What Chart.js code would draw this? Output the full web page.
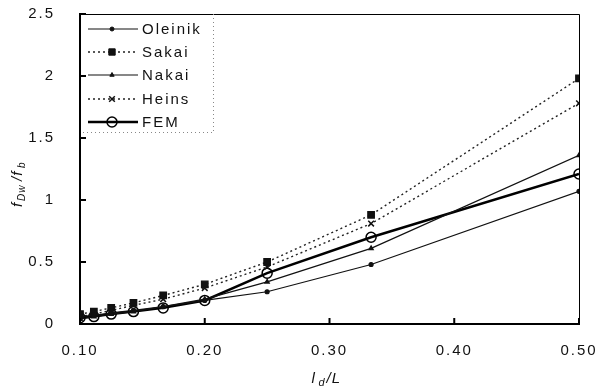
<!DOCTYPE html>
<html>
<head>
    <title>fDw/fb vs ld/L</title>
    <script src="https://cdn.jsdelivr.net/npm/chart.js@4.4.0/dist/chart.umd.min.js"></script>
    <style>
        body { margin: 0; background: #fff; }
        .chart-container { width: 596px; height: 389px; position: relative; }
    </style>
</head>
<body>
    <div class="chart-container">
        <canvas id="ratioChart"></canvas>
    </div>

    <script>
        // ld/L = 1/10 ... 1/2
        const ldL = [1/10, 1/9, 1/8, 1/7, 1/6, 1/5, 1/4, 1/3, 1/2];
        const oleinik = [0.06, 0.07, 0.09, 0.11, 0.14, 0.19, 0.26, 0.48, 1.07];
        const sakai   = [0.08, 0.10, 0.13, 0.17, 0.23, 0.32, 0.50, 0.88, 1.98];
        const nakai   = [0.04, 0.06, 0.08, 0.10, 0.14, 0.20, 0.34, 0.61, 1.36];
        const heins   = [0.06, 0.08, 0.11, 0.15, 0.20, 0.29, 0.46, 0.81, 1.78];
        const fem     = [0.05, 0.06, 0.08, 0.10, 0.13, 0.19, 0.41, 0.70, 1.21];
        const xTicks = [0.10, 0.20, 0.30, 0.40, 0.50];
        const yTicks = [0, 0.5, 1, 1.5, 2, 2.5];

        const FONT = '"Liberation Sans", Arial, sans-serif';

        function pts(ys) {
            return ldL.map(function(x, i) { return { x: x, y: ys[i] }; });
        }

        const datasets = [
            { label: 'Oleinik', data: pts(oleinik), borderColor: '#111', borderWidth: 1.2,
              pointStyle: 'circle', pointRadius: 2, pointBackgroundColor: '#111', pointBorderColor: '#111' },
            { label: 'Sakai', data: pts(sakai), borderColor: '#222', borderWidth: 1.4, borderDash: [2, 3],
              pointStyle: 'rect', pointRadius: 4.5, pointBackgroundColor: '#111', pointBorderColor: '#111' },
            { label: 'Nakai', data: pts(nakai), borderColor: '#111', borderWidth: 1.2,
              pointStyle: 'triangle', pointRadius: 2.5, pointBackgroundColor: '#111', pointBorderColor: '#111' },
            { label: 'Heins', data: pts(heins), borderColor: '#222', borderWidth: 1.4, borderDash: [2, 3],
              pointStyle: 'crossRot', pointRadius: 4, pointBorderWidth: 1.5, pointBorderColor: '#111' },
            { label: 'FEM', data: pts(fem), borderColor: '#000', borderWidth: 2.5,
              pointStyle: 'circle', pointRadius: 5, pointBorderWidth: 1.5,
              pointBackgroundColor: 'rgba(0,0,0,0)', pointBorderColor: '#000' }
        ];

        // spaced-out lettering like the scanned figure
        const spacingPlugin = {
            id: 'spacing',
            beforeDraw: function(chart) { chart.ctx.letterSpacing = '2px'; }
        };

        // frame, inward tick marks, inner legend and axis titles with subscripts
        const decorPlugin = {
            id: 'decor',
            afterDraw: function(chart) {
                const ctx = chart.ctx;
                const a = chart.chartArea;
                const xs = chart.scales.x;
                const ys = chart.scales.y;
                ctx.save();
                ctx.letterSpacing = '0px';

                // top and right frame
                ctx.strokeStyle = '#000';
                ctx.lineWidth = 1;
                ctx.beginPath();
                ctx.moveTo(a.left, a.top + 0.5);
                ctx.lineTo(a.right + 0.5, a.top + 0.5);
                ctx.lineTo(a.right + 0.5, a.bottom);
                ctx.stroke();

                // inward ticks
                ctx.lineWidth = 2;
                ctx.beginPath();
                yTicks.forEach(function(v) {
                    const y = ys.getPixelForValue(v);
                    ctx.moveTo(a.left, y); ctx.lineTo(a.left + 6, y);
                });
                xTicks.forEach(function(v) {
                    const x = xs.getPixelForValue(v);
                    ctx.moveTo(x, a.bottom); ctx.lineTo(x, a.bottom - 6);
                });
                ctx.stroke();

                // legend box (dotted right/bottom edges)
                const lx = a.left, ly = a.top;
                const lw = 133, lh = 118;
                ctx.strokeStyle = '#888';
                ctx.lineWidth = 1;
                ctx.setLineDash([1, 3]);
                ctx.beginPath();
                ctx.moveTo(lx + lw + 0.5, ly);
                ctx.lineTo(lx + lw + 0.5, ly + lh + 0.5);
                ctx.lineTo(lx, ly + lh + 0.5);
                ctx.stroke();
                ctx.setLineDash([]);

                const rowY = [29, 52, 75, 99, 122];
                ctx.font = '15px ' + FONT;
                ctx.letterSpacing = '2px';
                ctx.textBaseline = 'middle';
                ctx.textAlign = 'left';
                chart.data.datasets.forEach(function(ds, i) {
                    const y = a.top + rowY[i] - 14;
                    ctx.save();
                    ctx.strokeStyle = ds.borderColor;
                    ctx.lineWidth = ds.borderWidth;
                    ctx.setLineDash(ds.borderDash || []);
                    ctx.beginPath();
                    ctx.moveTo(lx + 8, y);
                    ctx.lineTo(lx + 58, y);
                    ctx.stroke();
                    ctx.restore();
                    ctx.save();
                    ctx.fillStyle = ds.pointBackgroundColor || 'rgba(0,0,0,0)';
                    ctx.strokeStyle = ds.pointBorderColor;
                    ctx.lineWidth = ds.pointBorderWidth || 1;
                    Chart.helpers.drawPoint(ctx, {
                        pointStyle: ds.pointStyle, radius: ds.pointRadius,
                        borderWidth: ds.pointBorderWidth || 1, rotation: 0
                    }, lx + 32, y);
                    ctx.restore();
                    ctx.fillStyle = '#111';
                    ctx.fillText(ds.label, lx + 62, y + 1);
                });

                // x title: l_d / L
                ctx.letterSpacing = '1px';
                ctx.fillStyle = '#111';
                ctx.textBaseline = 'alphabetic';
                const cx = (a.left + a.right) / 2 - 18;
                const by = 383;
                ctx.font = 'italic 15px ' + FONT;
                ctx.fillText('l', cx, by);
                ctx.font = 'italic 11px ' + FONT;
                ctx.fillText('d', cx + 7, by + 3);
                ctx.font = 'italic 15px ' + FONT;
                ctx.fillText('/L', cx + 15, by);

                // y title: f_Dw / f_b (rotated)
                ctx.translate(22, (a.top + a.bottom) / 2 + 8);
                ctx.rotate(-Math.PI / 2);
                let x0 = -30;
                ctx.font = 'italic 15px ' + FONT;
                ctx.fillText('f', x0, 0);
                ctx.font = 'italic 10px ' + FONT;
                ctx.fillText('Dw', x0 + 6, 3);
                ctx.font = 'italic 15px ' + FONT;
                ctx.fillText('/f', x0 + 26, 0);
                ctx.font = 'italic 10px ' + FONT;
                ctx.fillText('b', x0 + 39, 3);
                ctx.restore();
            }
        };

        document.addEventListener('DOMContentLoaded', function() {
            const ctx = document.getElementById('ratioChart').getContext('2d');
            new Chart(ctx, {
                type: 'line',
                data: { datasets: datasets },
                options: {
                    responsive: true,
                    maintainAspectRatio: false,
                    animation: false,
                    layout: { padding: { top: 14, right: 17, left: 0, bottom: 0 } },
                    plugins: {
                        legend: { display: false },
                        tooltip: { enabled: false }
                    },
                    elements: { line: { tension: 0 } },
                    scales: {
                        x: {
                            type: 'linear',
                            min: 0.1,
                            max: 0.5,
                            afterFit: function(s) {
                                s.height = 65;
                                s.paddingLeft = 0;
                                s.paddingRight = 0;
                            },
                            afterBuildTicks: function(s) {
                                s.ticks = xTicks.map(function(v) { return { value: v }; });
                            },
                            grid: { display: true, drawOnChartArea: false, drawTicks: false },
                            border: { display: true, color: '#000', width: 2 },
                            ticks: {
                                padding: 18,
                                color: '#111',
                                font: { family: FONT, size: 15 },
                                maxRotation: 0,
                                callback: function(v) { return Number(v).toFixed(2); }
                            }
                        },
                        y: {
                            min: 0,
                            max: 2.5,
                            afterFit: function(s) {
                                s.width = 80;
                                s.paddingTop = 0;
                                s.paddingBottom = 0;
                            },
                            afterBuildTicks: function(s) {
                                s.ticks = yTicks.map(function(v) { return { value: v }; });
                            },
                            grid: { display: true, drawOnChartArea: false, drawTicks: false },
                            border: { display: true, color: '#000', width: 2 },
                            ticks: {
                                padding: 25,
                                color: '#111',
                                font: { family: FONT, size: 15 },
                                callback: function(v) { return String(v); }
                            }
                        }
                    }
                },
                plugins: [spacingPlugin, decorPlugin]
            });
        });
    </script>
</body>
</html>
